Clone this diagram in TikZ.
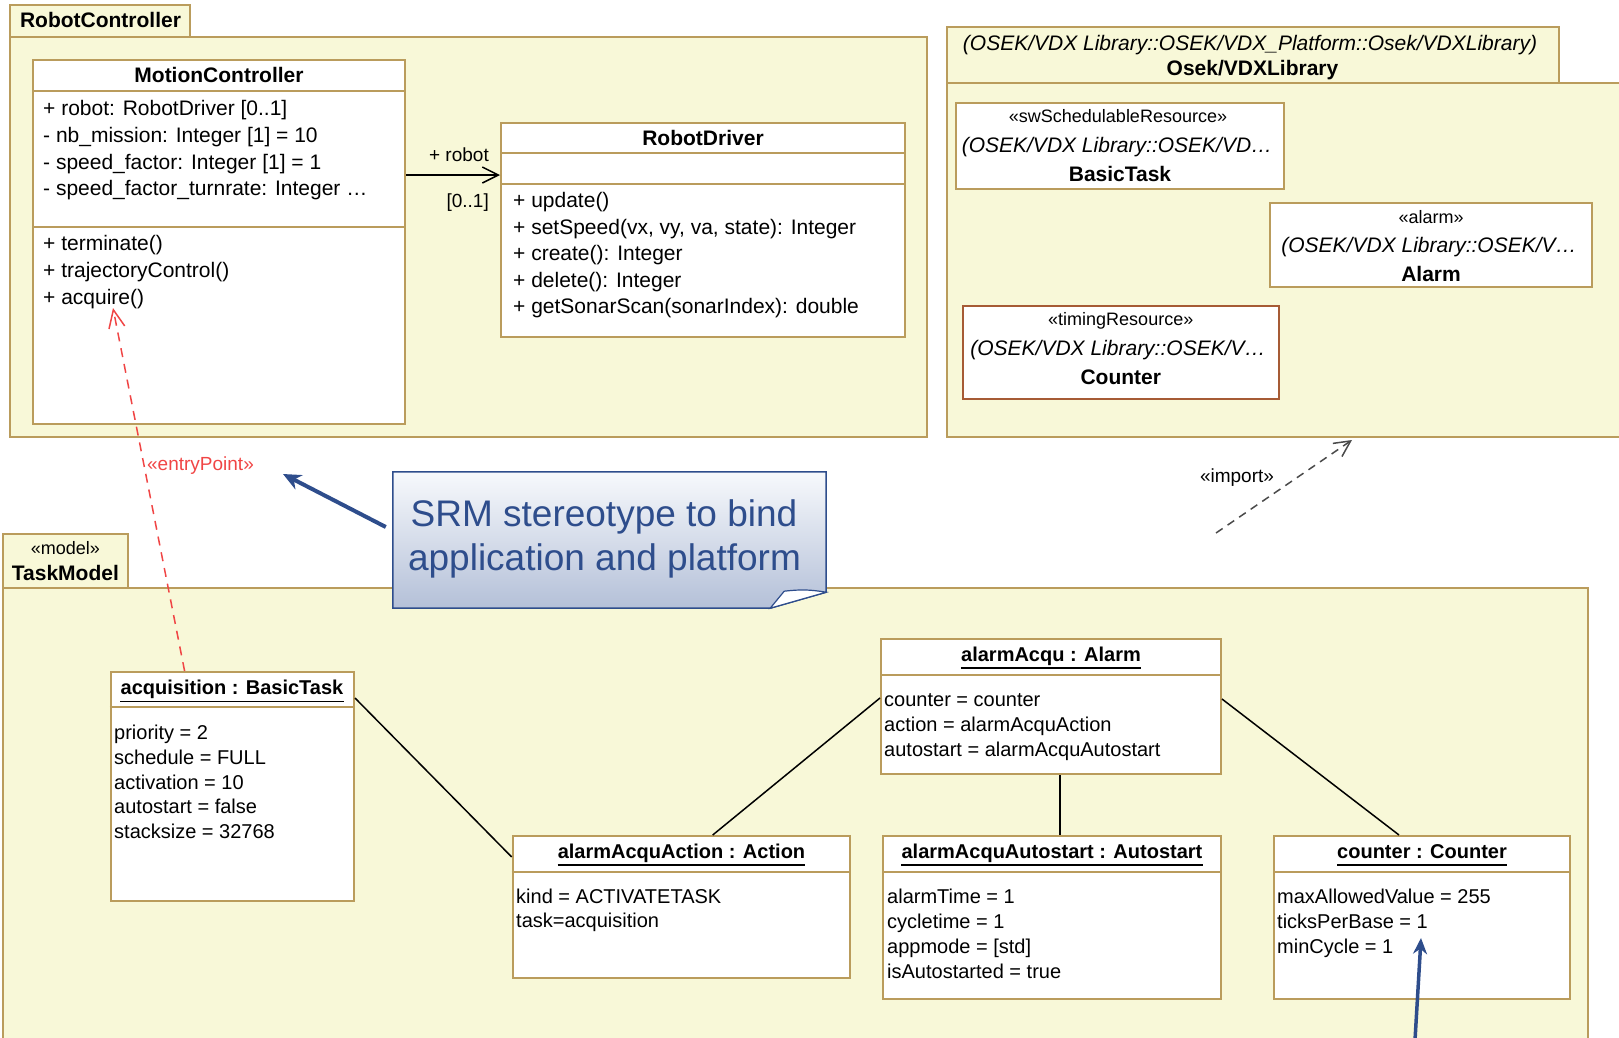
\documentclass[tikz,border=0pt]{standalone}
\usepackage{fontspec}
\setmainfont{Liberation Sans}
\usetikzlibrary{arrows.meta,calc,fit}
\definecolor{pkgfill}{HTML}{F8F8D8}
\definecolor{pkgline}{HTML}{BA9C5C}
\definecolor{cntline}{HTML}{A65B35}
\definecolor{notetop}{HTML}{F7F9FC}
\definecolor{notebot}{HTML}{B4C0D8}
\definecolor{noteline}{HTML}{2E4D8C}
\definecolor{deplink}{HTML}{F04545}
\definecolor{implink}{HTML}{4A4A4A}
\newcommand\fsz[1]{\fontsize{#1}{#1}\selectfont}
% one text node per line: style, name prefix, x, first baseline, line step, lines
\newcommand\txtlines[6]{%
  \foreach \t [count=\i from 0] in {#6}
    \node[#1, anchor=base west] (#2-\i) at (#3, {#4+\i*#5}) {\t};}
% underlined instance name of an object box
\newcommand\objtitle[4]{%
  \node[otitle, anchor=base] (#1) at (#2,#3) {#4};
  \draw[line width=1.8pt] ($(#1.base west)+(0,7)$) -- ($(#1.base east)+(0,7)$);}
\begin{document}
\begin{tikzpicture}[x=1pt, y=-1pt,
  pkg/.style={draw=pkgline, fill=pkgfill, line width=2pt, inner sep=0pt},
  box/.style={draw=pkgline, fill=white, line width=2pt, inner sep=0pt},
  sep/.style={draw=pkgline, line width=2pt},
  ctxt/.style={inner sep=0pt, font=\fsz{21}},
  ctitle/.style={inner sep=0pt, font=\bfseries\fsz{21}},
  otxt/.style={inner sep=0pt, font=\fsz{20}},
  otitle/.style={inner sep=0pt, font=\bfseries\fsz{20}},
  stereo/.style={inner sep=0pt, font=\fsz{18}},
  qual/.style={inner sep=0pt, font=\itshape\fsz{21}},
  small/.style={inner sep=0pt, font=\fsz{19}},
  link/.style={draw=black, line width=1.5pt},
  openhead/.style={-{Straight Barb[length=16pt,width=16pt]}},
]
\clip (0,0) rectangle (1619,1037);

% ---------------- package RobotController ----------------
\node[pkg, fit={(10,37) (927,437)}] (rc) {};
\node[pkg, fit={(10,5) (190,37)}] (rctab) {};
\node[ctitle, anchor=base] (rctab-t) at (100.5,27.5) {RobotController};

% class MotionController
\node[box, fit={(33,60) (405,424)}] (mc) {};
\draw[sep] (mc.west |- 0,91) -- (mc.east |- 0,91);
\draw[sep] (mc.west |- 0,227) -- (mc.east |- 0,227);
\node[ctitle, anchor=base] (mc-t) at (219,82.5) {MotionController};
\txtlines{ctxt}{mca}{43}{115.5}{26.8}{{+ robot: RobotDriver [0..1]},{- nb\_mission: Integer [1] = 10},{- speed\_factor: Integer [1] = 1},{- speed\_factor\_turnrate: Integer …}}
\txtlines{ctxt}{mco}{43}{250.5}{27}{{+ terminate()},{+ trajectoryControl()},{+ acquire()}}

% class RobotDriver
\node[box, fit={(501,123) (905,337)}] (rd) {};
\draw[sep] (rd.west |- 0,153) -- (rd.east |- 0,153);
\draw[sep] (rd.west |- 0,184) -- (rd.east |- 0,184);
\node[ctitle, anchor=base] (rd-t) at (703,145) {RobotDriver};
\txtlines{ctxt}{rdo}{513}{207.5}{26.5}{{+ update()},{+ setSpeed(vx, vy, va, state): Integer},{+ create(): Integer},{+ delete(): Integer},{+ getSonarScan(sonarIndex): double}}

% association MotionController -> RobotDriver
\draw[link, openhead] (mc.east |- 0,175) -- (rd.west |- 0,175);
\node[small, anchor=base east] (role) at (489,161.5) {+ robot};
\node[small, anchor=base east] (mult) at (489,207) {[0..1]};

% ---------------- package Osek/VDXLibrary ----------------
\node[pkg, fit={(946.5,83) (1640,437)}] (os) {};
\node[pkg, fit={(946.5,27) (1558.5,83)}] (ostab) {};
\node[qual, anchor=base] (ostab-q) at (1250,50.8) {(OSEK/VDX Library::OSEK/VDX\_Platform::Osek/VDXLibrary)};
\node[ctitle, anchor=base] (ostab-t) at (1252.5,75.8) {Osek/VDXLibrary};

\node[box, fit={(956,103) (1284,189)}] (bt) {};
\node[stereo, anchor=base] (bt-s) at (1118,122.7) {«swSchedulableResource»};
\node[qual, anchor=base] (bt-q) at (1117,152.5) {(OSEK/VDX Library::OSEK/VD…};
\node[ctitle, anchor=base] (bt-t) at (1120,181.5) {BasicTask};

\node[box, fit={(1270,203) (1592,287)}] (al) {};
\node[stereo, anchor=base] (al-s) at (1431,223) {«alarm»};
\node[qual, anchor=base] (al-q) at (1429,252.5) {(OSEK/VDX Library::OSEK/V…};
\node[ctitle, anchor=base] (al-t) at (1431,281.5) {Alarm};

\node[box, draw=cntline, fit={(962.5,306) (1279,399)}] (ct) {};
\node[stereo, anchor=base] (ct-s) at (1120.75,325.7) {«timingResource»};
\node[qual, anchor=base] (ct-q) at (1118,355.5) {(OSEK/VDX Library::OSEK/V…};
\node[ctitle, anchor=base] (ct-t) at (1120.75,384.5) {Counter};

% import dependency
\coordinate (imp-from) at (1216,533);
\coordinate (imp-to) at (1352,440);
\draw[implink, line width=1.5pt, dash pattern=on 8pt off 6pt, openhead] (imp-from) -- (imp-to);
\node[small, anchor=base] (imp-l) at (1237,482) {«import»};

% ---------------- package TaskModel ----------------
\node[pkg, fit={(2.7,588) (1588,1060)}] (tm) {};
\node[pkg, fit={(2.7,534) (128,588)}] (tmtab) {};
\node[stereo, anchor=base] (tmtab-s) at (65.4,554) {«model»};
\node[ctitle, anchor=base] (tmtab-t) at (65.4,580.5) {TaskModel};

% object acquisition
\node[box, fit={(110.6,672) (354,901)}] (acq) {};
\draw[sep] (acq.west |- 0,707) -- (acq.east |- 0,707);
\objtitle{acq-t}{232}{694.5}{acquisition : BasicTask}
\txtlines{otxt}{acqa}{114}{739.5}{24.75}{{priority = 2},{schedule = FULL},{activation = 10},{autostart = false},{stacksize = 32768}}

% object alarmAcquAction
\node[box, fit={(512.7,836) (850,978)}] (act) {};
\draw[sep] (act.west |- 0,872) -- (act.east |- 0,872);
\objtitle{act-t}{681.5}{858}{alarmAcquAction : Action}
\txtlines{otxt}{acta}{516}{903}{24}{{kind = ACTIVATETASK},{task=acquisition}}

% object alarmAcqu
\node[box, fit={(881,639) (1221,774)}] (aa) {};
\draw[sep] (aa.west |- 0,675) -- (aa.east |- 0,675);
\objtitle{aa-t}{1051}{661}{alarmAcqu : Alarm}
\txtlines{otxt}{aaa}{884}{706}{25}{{counter = counter},{action = alarmAcquAction},{autostart = alarmAcquAutostart}}

% object alarmAcquAutostart
\node[box, fit={(883,836) (1221,999)}] (as) {};
\draw[sep] (as.west |- 0,872) -- (as.east |- 0,872);
\objtitle{as-t}{1052}{858}{alarmAcquAutostart : Autostart}
\txtlines{otxt}{asa}{887}{903}{25}{{alarmTime = 1},{cycletime = 1},{appmode = [std]},{isAutostarted = true}}

% object counter
\node[box, fit={(1274,836) (1570,999)}] (cnt) {};
\draw[sep] (cnt.west |- 0,872) -- (cnt.east |- 0,872);
\objtitle{cnt-t}{1422}{858}{counter : Counter}
\txtlines{otxt}{cnta}{1277}{903}{25}{{maxAllowedValue = 255},{ticksPerBase = 1},{minCycle = 1}}

% links between objects
\draw[link] (acq.east |- 0,698) -- (act.west |- 0,857);
\draw[link] (act.north -| 712.7,0) -- (aa.west |- 0,698);
\draw[link] (aa.east |- 0,699) -- (cnt.north -| 1399,0);
\draw[link] (aa.south -| 1060,0) -- (as.north -| 1060,0);

% entryPoint dependency
\coordinate (acq-op) at (113,308);
\draw[deplink, line width=1.5pt, dash pattern=on 9pt off 7pt, -{Straight Barb[length=18pt,width=16pt]}] (acq.north -| 184.6,0) -- (acq-op);
\node[small, text=deplink, anchor=base] (ep) at (200.5,470) {«entryPoint»};

% ---------------- note ----------------
\node[inner sep=0pt, fit={(393,472) (826,608)}] (note) {};
\shadedraw[top color=notetop, bottom color=notebot, draw=noteline, line width=1.5pt]
  (note.north west) -- (note.north east) -- ($(note.south east)+(0,-16)$)
  -- ($(note.south east)+(-56,0)$) -- (note.south west) -- cycle;
\filldraw[fill=white, draw=noteline, line width=1.2pt]
  ($(note.south east)+(-56,0)$) -- ($(note.south east)+(-42,-17)$)
  to[bend left=8] ($(note.south east)+(0,-16)$) -- cycle;
\node[inner sep=0pt, font=\fsz{37}, text=noteline, anchor=base] (note-l1) at (604,526) {SRM stereotype to bind};
\node[inner sep=0pt, font=\fsz{37}, text=noteline, anchor=base] (note-l2) at (604.5,570) {application and platform};
\coordinate (note-ptr) at (283,474);
\draw[noteline, line width=4pt, -{Stealth[length=18pt,width=16pt]}] ($(note.west)+(-7,-13)$) -- (note-ptr);

\coordinate (cnt-ptr) at (1421,938);
\coordinate (cnt-tail) at (1415,1040);
\draw[noteline, line width=3.5pt, -{Stealth[length=16pt,width=14pt]}] (cnt-tail) -- (cnt-ptr);
\end{tikzpicture}
\end{document}
